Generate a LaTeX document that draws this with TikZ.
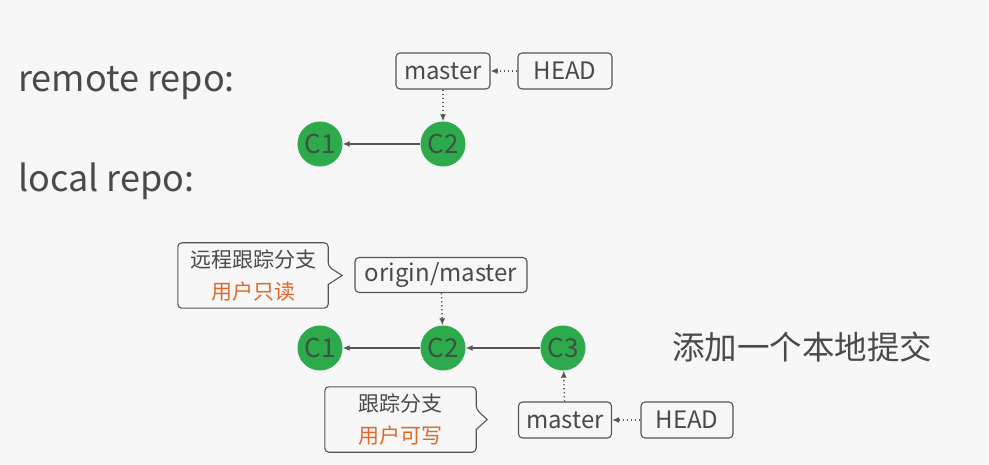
\documentclass[tikz,border=0pt]{standalone}
\usepackage{fontspec}
\setmainfont{Noto Sans CJK SC}
\usetikzlibrary{arrows.meta}
\definecolor{bg}{HTML}{F7F7F7}
\definecolor{ink}{HTML}{555555}
\definecolor{txt}{HTML}{4A4A4A}
\definecolor{cgreen}{HTML}{2DAA4B}
\definecolor{ctext}{HTML}{3B5440}
\definecolor{orng}{HTML}{E0692A}
\tikzset{
  commit/.style={circle, fill=cgreen, minimum size=45pt, inner sep=0pt, text=ctext, font=\fontsize{26}{28}\selectfont},
  refbox/.style={draw=ink, line width=1.1pt, rounded corners=4pt, fill=bg, minimum height=36pt, inner sep=0pt, text=txt, font=\fontsize{24}{28}\selectfont},
  calltext/.style={align=center, inner sep=0pt, minimum width=150pt, minimum height=65pt, text=txt, font=\fontsize{21}{32}\selectfont},
  parent/.style={draw=ink, line width=1.2pt, -{Latex[length=7pt,width=6pt]}},
  ptr/.style={draw=ink, line width=1.4pt, dash pattern=on 1.4pt off 2.6pt, -{Latex[length=7pt,width=6pt]}},
  outline/.style={draw=ink, line width=1.1pt, fill=bg},
  bigtext/.style={anchor=base west, inner sep=0pt, text=txt, font=\fontsize{36}{40}\selectfont}
}
\begin{document}
\begin{tikzpicture}[x=1pt,y=-1pt]
\fill[bg] (0,0) rectangle (989,465);
\useasboundingbox (0,0) rectangle (989,465);

\node[bigtext] (rlabel) at (18,92) {remote repo:};
\node[bigtext] (llabel) at (18,192) {local repo:};

% remote
\node[refbox, minimum width=94pt] (rmaster) at (443,71) {master};
\node[refbox, minimum width=94pt] (rhead) at (565,71) {HEAD};
\node[commit] (rc1) at (320,144) {C1};
\node[commit] (rc2) at (443,144) {C2};
\draw[parent] (rc2) -- (rc1);
\draw[ptr] (rmaster) -- (rc2);
\draw[ptr] (rhead) -- (rmaster);

% local
\node[refbox, minimum width=172pt, minimum height=35pt] (omaster) at (441,275) {origin/master};
\node[commit] (lc1) at (320,348) {C1};
\node[commit] (lc2) at (443,348) {C2};
\node[commit] (lc3) at (563,348) {C3};
\node[refbox, minimum width=93pt] (lmaster) at (565,420) {master};
\node[refbox, minimum width=92pt] (lhead) at (687,420) {HEAD};
\draw[parent] (lc2) -- (lc1);
\draw[parent] (lc3) -- (lc2);
\draw[ptr] (omaster) -- (lc2);
\draw[ptr] (lmaster) -- (lc3);
\draw[ptr] (lhead) -- (lmaster);

% callouts
\node[calltext] (call1) at (253,275.5) {};
\draw[outline, rounded corners=4pt] (call1.north west) -- (call1.north east) -- ([yshift=9pt]call1.east)
  [sharp corners] -- ([xshift=14pt]call1.east) -- ([yshift=-9pt]call1.east)
  [rounded corners=4pt] -- (call1.south east) -- (call1.south west) -- cycle;
\node[calltext] (call1t) at (call1) {远程跟踪分支\\\textcolor{orng}{用户只读}};

\node[calltext, minimum width=151pt] (call2) at (400.5,419.5) {};
\draw[outline, rounded corners=4pt] (call2.north west) -- (call2.north east) -- ([yshift=10pt]call2.east)
  [sharp corners] -- ([xshift=11pt]call2.east) -- ([yshift=-10pt]call2.east)
  [rounded corners=4pt] -- (call2.south east) -- (call2.south west) -- cycle;
\node[calltext, minimum width=151pt] (call2t) at (call2) {跟踪分支\\\textcolor{orng}{用户可写}};

\node[anchor=west, inner sep=0pt, text=txt, font=\fontsize{32.5}{36}\selectfont] (note) at (672,347) {添加一个本地提交};
\end{tikzpicture}
\end{document}
